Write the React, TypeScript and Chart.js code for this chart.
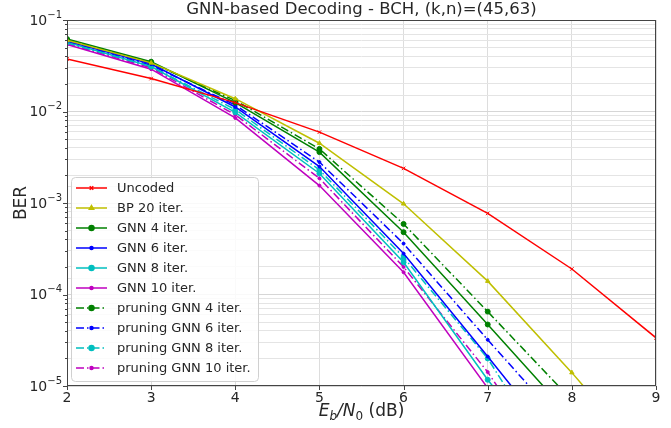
import React, { useEffect, useRef } from 'react';
import { Chart, registerables } from 'chart.js';
import { drawPoint } from 'chart.js/helpers';

Chart.register(...registerables);

// ---- data ----
const ebn0 = [2, 3, 4, 5, 6, 7, 8, 9];
const uncoded = [0.0375, 0.0229, 0.0125, 0.00595, 0.00239, 0.00077, 0.00019, 0.0000336];
const bp20 = [0.06, 0.034, 0.0138, 0.0045, 0.00098, 0.00014, 0.000014, 0.0000012];
const gnn4 = [0.062, 0.035, 0.0125, 0.0036, 0.00048, 0.000047, 0.0000045, null];
const gnn6 = [0.059, 0.033, 0.0112, 0.0025, 0.00028, 0.000021, 0.0000015, null];
const gnn8 = [0.057, 0.031, 0.0098, 0.0021, 0.000225, 0.0000117, 0.0000008, null];
const gnn10 = [0.054, 0.029, 0.0085, 0.00155, 0.000175, 0.0000095, 0.0000006, null];
const pgnn4 = [0.061, 0.034, 0.0132, 0.0039, 0.00059, 0.000065, 0.000007, null];
const pgnn6 = [0.058, 0.032, 0.0118, 0.0028, 0.00036, 0.000032, 0.000003, null];
const pgnn8 = [0.056, 0.031, 0.0105, 0.0023, 0.000255, 0.00002, 0.0000007, null];
const pgnn10 = [0.055, 0.03, 0.0092, 0.00186, 0.0002, 0.0000142, 0.0000006, null];
const yDecades = [-1, -2, -3, -4, -5];
const xTicks = [2, 3, 4, 5, 6, 7, 8, 9];

const titleText = 'GNN-based Decoding - BCH, (k,n)=(45,63)';

const DASHDOT = [8, 3, 1.5, 3];
const seriesDefs = [
  { label: 'Uncoded', data: uncoded, color: '#ff0000', dash: [], style: 'crossRot', r: 2.5 },
  { label: 'BP 20 iter.', data: bp20, color: '#bfbf00', dash: [], style: 'triangle', r: 2.5 },
  { label: 'GNN 4 iter.', data: gnn4, color: '#008000', dash: [], style: 'circle', r: 2.5 },
  { label: 'GNN 6 iter.', data: gnn6, color: '#0000ff', dash: [], style: 'circle', r: 1.5 },
  { label: 'GNN 8 iter.', data: gnn8, color: '#00bfbf', dash: [], style: 'circle', r: 2.5 },
  { label: 'GNN 10 iter.', data: gnn10, color: '#bf00bf', dash: [], style: 'circle', r: 1.5 },
  { label: 'pruning GNN 4 iter.', data: pgnn4, color: '#008000', dash: DASHDOT, style: 'circle', r: 2.5 },
  { label: 'pruning GNN 6 iter.', data: pgnn6, color: '#0000ff', dash: DASHDOT, style: 'circle', r: 1.5 },
  { label: 'pruning GNN 8 iter.', data: pgnn8, color: '#00bfbf', dash: DASHDOT, style: 'circle', r: 2.5 },
  { label: 'pruning GNN 10 iter.', data: pgnn10, color: '#bf00bf', dash: DASHDOT, style: 'circle', r: 1.5 },
];

const FONT = '"DejaVu Sans", "Liberation Sans", sans-serif';
const TEXT = '#262626';

const decorPlugin = {
  id: 'decor',
  afterDraw(chart: any) {
    const ctx = chart.ctx as CanvasRenderingContext2D;
    const ca = chart.chartArea;
    const ys = chart.scales.y;
    const xs = chart.scales.x;
    ctx.save();
    // frame
    ctx.strokeStyle = '#444';
    ctx.lineWidth = 1;
    ctx.strokeRect(ca.left + 0.5, ca.top + 0.5, ca.right - ca.left - 1, ca.bottom - ca.top - 1);

    // y ticks (major + minor)
    ctx.strokeStyle = '#444';
    for (const d of yDecades) {
      for (let m = 1; m <= 9; m++) {
        const v = m * Math.pow(10, d);
        if (v > 0.1000001) continue;
        const y = Math.round(ys.getPixelForValue(v)) + 0.5;
        const len = m === 1 ? 4 : 2;
        ctx.beginPath();
        ctx.moveTo(ca.left, y);
        ctx.lineTo(ca.left - len, y);
        ctx.stroke();
      }
    }
    // x ticks
    for (const t of xTicks) {
      const x = Math.round(xs.getPixelForValue(t)) + 0.5;
      ctx.beginPath();
      ctx.moveTo(x, ca.bottom);
      ctx.lineTo(x, ca.bottom + 4);
      ctx.stroke();
    }

    // y tick labels 10^d
    ctx.fillStyle = TEXT;
    ctx.textBaseline = 'middle';
    for (const d of yDecades) {
      const y = ys.getPixelForValue(Math.pow(10, d));
      const sup = '\u2212' + String(-d);
      ctx.font = `10px ${FONT}`;
      const sw = ctx.measureText(sup).width;
      const right = ca.left - 5;
      ctx.textAlign = 'right';
      ctx.fillText(sup, right, y - 5);
      ctx.font = `14px ${FONT}`;
      ctx.fillText('10', right - sw, y + 1);
    }

    // title
    ctx.textAlign = 'center';
    ctx.textBaseline = 'middle';
    ctx.font = `16.5px ${FONT}`;
    ctx.fillText(titleText, (ca.left + ca.right) / 2, 10);

    // y axis title
    ctx.save();
    ctx.translate(22, (ca.top + ca.bottom) / 2);
    ctx.rotate(-Math.PI / 2);
    ctx.font = `17px ${FONT}`;
    ctx.fillText('BER', 0, 0);
    ctx.restore();

    // x axis title: E_b/N_0 (dB)
    {
      const parts: { t: string; f: string; dy: number }[] = [
        { t: 'E', f: `italic 17px ${FONT}`, dy: 0 },
        { t: 'b', f: `italic 12px ${FONT}`, dy: 4 },
        { t: '/', f: `italic 17px ${FONT}`, dy: 0 },
        { t: 'N', f: `italic 17px ${FONT}`, dy: 0 },
        { t: '0', f: `12px ${FONT}`, dy: 4 },
        { t: ' (dB)', f: `17px ${FONT}`, dy: 0 },
      ];
      let total = 0;
      for (const p of parts) {
        ctx.font = p.f;
        total += ctx.measureText(p.t).width;
      }
      let x = (ca.left + ca.right) / 2 - total / 2;
      const yb = 416;
      ctx.textAlign = 'left';
      ctx.textBaseline = 'alphabetic';
      for (const p of parts) {
        ctx.font = p.f;
        ctx.fillText(p.t, x, yb + p.dy);
        x += ctx.measureText(p.t).width;
      }
    }

    // legend
    {
      const bx = 71, by = 177, bw = 187, bh = 204;
      ctx.fillStyle = 'rgba(255,255,255,0.85)';
      ctx.strokeStyle = '#d0d0d0';
      ctx.lineWidth = 1;
      ctx.beginPath();
      (ctx as any).roundRect(bx + 0.5, by + 0.5, bw, bh, 4);
      ctx.fill();
      ctx.stroke();
      ctx.font = `13px ${FONT}`;
      ctx.textAlign = 'left';
      ctx.textBaseline = 'middle';
      seriesDefs.forEach((s, i) => {
        const y = 188 + i * 20;
        ctx.strokeStyle = s.color;
        ctx.fillStyle = s.color;
        ctx.lineWidth = 1.5;
        ctx.setLineDash(s.dash);
        ctx.beginPath();
        ctx.moveTo(76, y);
        ctx.lineTo(107, y);
        ctx.stroke();
        ctx.setLineDash([]);
        drawPoint(ctx, { pointStyle: s.style, radius: s.r, rotation: 0, borderWidth: 1 } as any, 91.5, y);
        ctx.fillStyle = TEXT;
        ctx.fillText(s.label, 117, y + 1);
      });
    }
    ctx.restore();
  },
};

export default function App() {
  const ref = useRef<HTMLCanvasElement>(null);
  useEffect(() => {
    if (!ref.current) return;
    const chart = new Chart(ref.current, {
      type: 'line',
      data: {
        datasets: seriesDefs.map((s) => ({
          label: s.label,
          data: ebn0.map((x, i) => ({ x, y: s.data[i] as any })),
          borderColor: s.color,
          backgroundColor: s.color,
          borderWidth: 1.5,
          borderDash: s.dash,
          pointStyle: s.style as any,
          pointRadius: s.r,
          pointBorderWidth: 1,
          pointBorderColor: s.color,
          pointBackgroundColor: s.color,
          tension: 0,
          spanGaps: false,
        })),
      },
      options: {
        responsive: false,
        animation: false,
        events: [],
        layout: { padding: { top: 20, right: 15, left: 0, bottom: 0 } },
        plugins: { legend: { display: false }, title: { display: false }, tooltip: { enabled: false } },
        scales: {
          x: {
            type: 'linear',
            min: 2,
            max: 9,
            ticks: {
              stepSize: 1,
              color: TEXT,
              font: { family: FONT, size: 14 },
              padding: 4,
              maxRotation: 0,
            },
            grid: { color: '#dddddd', lineWidth: 1, drawTicks: false },
            border: { display: false },
            afterFit: (s: any) => {
              s.height = 42;
            },
          },
          y: {
            type: 'logarithmic',
            min: 1e-5,
            max: 1e-1,
            ticks: { callback: () => '', autoSkip: false },
            grid: {
              color: (c: any) => {
                const v = c.tick ? c.tick.value : 0;
                const e = Math.log10(v);
                return Math.abs(e - Math.round(e)) < 1e-6 ? '#d6d6d6' : '#e4e4e4';
              },
              lineWidth: 1,
              drawTicks: false,
            },
            border: { display: false },
            afterFit: (s: any) => {
              s.width = 67;
            },
          },
        },
      } as any,
      plugins: [decorPlugin],
    });
    return () => chart.destroy();
  }, []);
  return (
    <div style={{ position: 'absolute', left: 0, top: 0, width: 671, height: 428, background: '#fff' }}>
      <canvas ref={ref} width={671} height={428} style={{ width: 671, height: 428 }} />
    </div>
  );
}
